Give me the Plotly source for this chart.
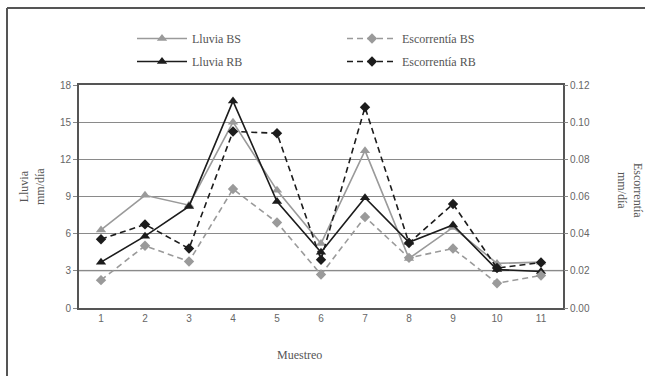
import plotly.graph_objects as go

muestreo = ["1", "2", "3", "4", "5", "6", "7", "8", "9", "10", "11"]
lluvia_bs = [6.3, 9.1, 8.3, 15.0, 9.5, 5.2, 12.7, 4.0, 6.5, 3.6, 3.7]
lluvia_rb = [3.7, 5.8, 8.2, 16.7, 8.6, 4.5, 8.9, 5.3, 6.7, 3.1, 2.95]
esc_bs = [0.015, 0.0335, 0.025, 0.064, 0.046, 0.018, 0.049, 0.027, 0.032, 0.0133, 0.0175]
esc_rb = [0.037, 0.045, 0.032, 0.095, 0.094, 0.026, 0.108, 0.035, 0.056, 0.0215, 0.0245]

left_ticks = [0, 3, 6, 9, 12, 15, 18]
right_ticks = [0.00, 0.02, 0.04, 0.06, 0.08, 0.10, 0.12]

GRAY = "#9a9a9a"
BLACK = "#1c1c1c"
SERIF = "Liberation Serif, Times New Roman, serif"
SANS = "Liberation Sans, Arial, sans-serif"

W, H = 645, 376
L, R, T, B = 79, 82, 85, 68
pw, ph = W - L - R, H - T - B


def px(x):
    return (x - L) / pw


def py(y):
    return (H - B - y) / ph


fig = go.Figure()
fig.add_trace(go.Scatter(x=muestreo, y=esc_bs, name="Escorrentía BS", yaxis="y2",
                         mode="lines+markers", legend="legend2", legendgroup="eb",
                         line=dict(color=GRAY, width=1.6, dash="6px,4px"),
                         marker=dict(symbol="diamond", size=8, color=GRAY)))
fig.add_trace(go.Scatter(x=muestreo, y=lluvia_bs, name="Lluvia BS",
                         mode="lines+markers", legend="legend", legendgroup="lb",
                         line=dict(color=GRAY, width=1.6),
                         marker=dict(symbol="triangle-up", size=9, color=GRAY)))
fig.add_trace(go.Scatter(x=muestreo, y=lluvia_rb, name="Lluvia RB",
                         mode="lines+markers", legend="legend", legendgroup="lr",
                         line=dict(color=BLACK, width=1.6),
                         marker=dict(symbol="triangle-up", size=9, color=BLACK)))
fig.add_trace(go.Scatter(x=muestreo, y=esc_rb, name="Escorrentía RB", yaxis="y2",
                         mode="lines+markers", legend="legend2", legendgroup="er",
                         line=dict(color=BLACK, width=1.6, dash="6px,4px"),
                         marker=dict(symbol="diamond", size=8, color=BLACK)))

legend_common = dict(orientation="v", yanchor="top", xanchor="left",
                     font=dict(family=SERIF, size=12, color="#555"),
                     bgcolor="rgba(0,0,0,0)", traceorder="grouped",
                     itemwidth=50, tracegroupgap=4)

fig.update_layout(
    width=W, height=H,
    margin=dict(l=L, r=R, t=T, b=B),
    paper_bgcolor="white", plot_bgcolor="white",
    showlegend=True,
    legend=dict(x=px(132), y=py(24), **legend_common),
    legend2=dict(x=px(342), y=py(24), **legend_common),
    xaxis=dict(type="category", categoryorder="array", categoryarray=muestreo,
               range=[-0.5, 10.5], showgrid=False, zeroline=False,
               showline=True, linecolor="#555", linewidth=2, mirror=True,
               ticks="", tickfont=dict(family=SANS, size=10, color="#666")),
    yaxis=dict(range=[0, 18], tickvals=left_ticks, showgrid=True,
               gridcolor="#8a8a8a", gridwidth=1, zeroline=False,
               showline=True, linecolor="#555", linewidth=2, mirror=True,
               ticks="outside", ticklen=4, tickcolor="#888",
               tickfont=dict(family=SANS, size=10, color="#666")),
    yaxis2=dict(range=[0, 0.12], tickvals=right_ticks, tickformat=".2f",
                overlaying="y", side="right", showgrid=False, zeroline=False,
                showline=False, ticks="outside", ticklen=4, tickcolor="#888",
                tickfont=dict(family=SANS, size=10, color="#666")),
    shapes=[
        dict(type="line", xref="paper", yref="y", x0=0, x1=1, y0=3, y1=3,
             line=dict(color="#cfcfcf", width=2), layer="below"),
        dict(type="line", xref="paper", yref="paper", x0=px(7), x1=px(660),
             y0=py(8), y1=py(8), line=dict(color="#555", width=2)),
        dict(type="line", xref="paper", yref="paper", x0=px(7), x1=px(7),
             y0=py(8), y1=py(390), line=dict(color="#555", width=2)),
    ],
    annotations=[
        dict(text="Lluvia<br>mm/día", xref="paper", yref="paper", x=px(32), y=py(187),
             xanchor="center", yanchor="middle",
             showarrow=False, textangle=-90,
             font=dict(family=SERIF, size=12, color="#555")),
        dict(text="Escorrentía<br>mm/día", xref="paper", yref="paper", x=px(630), y=py(190),
             xanchor="center", yanchor="middle",
             showarrow=False, textangle=90,
             font=dict(family=SERIF, size=12, color="#555")),
        dict(text="Muestreo", xref="paper", yref="paper", x=px(299), y=py(355),
             xanchor="center", yanchor="middle",
             showarrow=False, font=dict(family=SERIF, size=12, color="#555")),
    ],
)

fig.write_html("out.html", config={"displayModeBar": False},
               post_script="document.body.style.margin='0';document.body.style.overflow='hidden';")
